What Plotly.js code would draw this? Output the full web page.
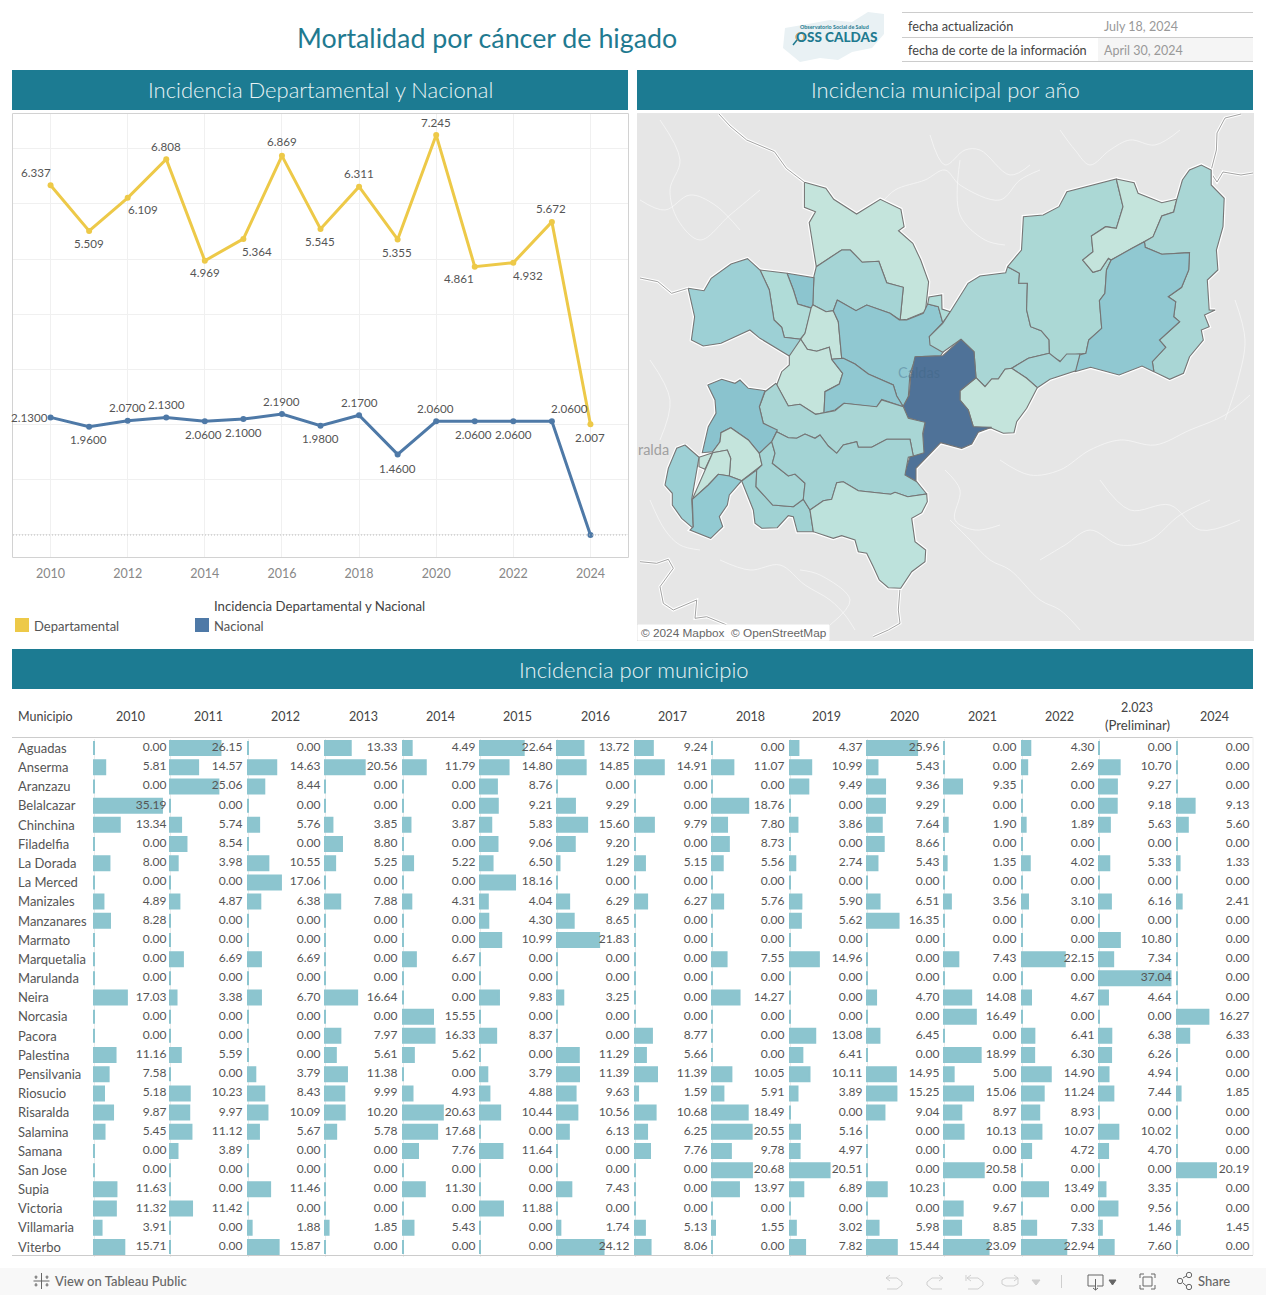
<!DOCTYPE html>
<html>
<head>
<meta charset="utf-8">
<script src="https://cdn.plot.ly/plotly-3.0.1.min.js"></script>
<style>html,body{margin:0;padding:0;background:#fff;overflow:hidden}#c{width:1266px;height:1295px}</style>
</head>
<body>
<div id="c"></div>
<script>
const lineYears=[2010,2011,2012,2013,2014,2015,2016,2017,2018,2019,2020,2021,2022,2023,2024];
const departamental=[6.337,5.509,6.109,6.808,4.969,5.364,6.869,5.545,6.311,5.355,7.245,4.861,4.932,5.672,2.007];
const nacional=[2.13,1.96,2.07,2.13,2.06,2.10,2.19,1.98,2.17,1.46,2.06,2.06,2.06,2.06,0];
const depOffX=[-15,0,15,0,0,14,0,-1,0,-1,0,-16,15,-1,0];
const depOffY=[-13,13,12,-13,12,13,-14,13,-13,13,-13,12,13,-13,13];
const nacOffX=[-21,-1,0,0,-1,0,0,0,0,0,-1,-1,0,18];
const nacOffY=[0,13,-13,-13,13,13,-13,13,-13,14,-13,13,13,-13];

const columnHeaders=['2010','2011','2012','2013','2014','2015','2016','2017','2018','2019','2020','2021','2022','2.023<br>(Preliminar)','2024'];
const municipios=['Aguadas','Anserma','Aranzazu','Belalcazar','Chinchina','Filadelfia','La Dorada','La Merced','Manizales','Manzanares','Marmato','Marquetalia','Marulanda','Neira','Norcasia','Pacora','Palestina','Pensilvania','Riosucio','Risaralda','Salamina','Samana','San Jose','Supia','Victoria','Villamaria','Viterbo'];
const y2010=[0,5.81,0,35.19,13.34,0,8.00,0,4.89,8.28,0,0,0,17.03,0,0,11.16,7.58,5.18,9.87,5.45,0,0,11.63,11.32,3.91,15.71];
const y2011=[26.15,14.57,25.06,0,5.74,8.54,3.98,0,4.87,0,0,6.69,0,3.38,0,0,5.59,0,10.23,9.97,11.12,3.89,0,0,11.42,0,0];
const y2012=[0,14.63,8.44,0,5.76,0,10.55,17.06,6.38,0,0,6.69,0,6.70,0,0,0,3.79,8.43,10.09,5.67,0,0,11.46,0,1.88,15.87];
const y2013=[13.33,20.56,0,0,3.85,8.80,5.25,0,7.88,0,0,0,0,16.64,0,7.97,5.61,11.38,9.99,10.20,5.78,0,0,0,0,1.85,0];
const y2014=[4.49,11.79,0,0,3.87,0,5.22,0,4.31,0,0,6.67,0,0,15.55,16.33,5.62,0,4.93,20.63,17.68,7.76,0,11.30,0,5.43,0];
const y2015=[22.64,14.80,8.76,9.21,5.83,9.06,6.50,18.16,4.04,4.30,10.99,0,0,9.83,0,8.37,0,3.79,4.88,10.44,0,11.64,0,0,11.88,0,0];
const y2016=[13.72,14.85,0,9.29,15.60,9.20,1.29,0,6.29,8.65,21.83,0,0,3.25,0,0,11.29,11.39,9.63,10.56,6.13,0,0,7.43,0,1.74,24.12];
const y2017=[9.24,14.91,0,0,9.79,0,5.15,0,6.27,0,0,0,0,0,0,8.77,5.66,11.39,1.59,10.68,6.25,7.76,0,0,0,5.13,8.06];
const y2018=[0,11.07,0,18.76,7.80,8.73,5.56,0,5.76,0,0,7.55,0,14.27,0,0,0,10.05,5.91,18.49,20.55,9.78,20.68,13.97,0,1.55,0];
const y2019=[4.37,10.99,9.49,0,3.86,0,2.74,0,5.90,5.62,0,14.96,0,0,0,13.08,6.41,10.11,3.89,0,5.16,4.97,20.51,6.89,0,3.02,7.82];
const y2020=[25.96,5.43,9.36,9.29,7.64,8.66,5.43,0,6.51,16.35,0,0,0,4.70,0,6.45,0,14.95,15.25,9.04,0,0,0,10.23,0,5.98,15.44];
const y2021=[0,0,9.35,0,1.90,0,1.35,0,3.56,0,0,7.43,0,14.08,16.49,0,18.99,5.00,15.06,8.97,10.13,0,20.58,0,9.67,8.85,23.09];
const y2022=[4.30,2.69,0,0,1.89,0,4.02,0,3.10,0,0,22.15,0,4.67,0,6.41,6.30,14.90,11.24,8.93,10.07,4.72,0,13.49,0,7.33,22.94];
const y2023=[0,10.70,9.27,9.18,5.63,0,5.33,0,6.16,0,10.80,7.34,37.04,4.64,0,6.38,6.26,4.94,7.44,0,10.02,4.70,0,3.35,9.56,1.46,7.60];
const y2024=[0,0,0,9.13,5.60,0,1.33,0,2.41,0,0,0,0,0,16.27,6.33,0,0,1.85,0,0,0,20.19,0,0,1.45,0];
const tableColumns=[y2010,y2011,y2012,y2013,y2014,y2015,y2016,y2017,y2018,y2019,y2020,y2021,y2022,y2023,y2024];

const mapAreas=[
[[804.4,182.3],[804.4,207.3],[815.5,211.7],[809.2,222.7],[816.3,266.7],[841.6,250],[850.3,250],[862.2,262.3],[878.8,261.3],[886.7,282.7],[903.3,287.3],[900.1,320],[907.2,319.3],[925.4,311.7],[928.6,281.7],[920.7,260],[912.8,243.3],[898.5,230.7],[904.1,226.7],[900.9,209.3],[880.3,199.3],[856.6,214],[833.7,199.3],[825.8,188.3]],
[[816.3,266.7],[841.6,250],[850.3,250],[862.2,262.3],[878.8,261.3],[886.7,282.7],[903.3,287.3],[900.1,320],[890,313.3],[866.7,305],[856,310.7],[837.3,300],[833.3,310.7],[826,311.7],[812.7,304.7],[813.9,276.7]],
[[787,273.3],[813.9,277.7],[812.7,308.3],[797.7,304],[793.4,290]],
[[760,270],[787,273.3],[793.4,290],[797.7,304],[811.5,308.3],[805,333.3],[800,339.3],[784.3,337.3],[781.7,327.3],[774,320],[769.3,290]],
[[688.2,288.3],[704,290.7],[711.2,278.3],[731,264],[747.5,258.7],[760,270],[769.3,290],[774,320],[781.7,327.3],[784.3,337.3],[800.7,339.3],[798.3,348.3],[789.3,356],[760,338.3],[749.9,330],[734.9,336.7],[721,343.3],[703.2,346],[691.4,340],[694.6,316.7]],
[[812.7,304.7],[826,311.7],[833.3,310.7],[838.3,321.7],[841.7,358.3],[831.7,359.3],[829.3,347.3],[816.7,351.3],[807.3,349.3],[800.7,339.3],[805,333.3],[811,308.3]],
[[837.3,300],[856,310.7],[866.7,305],[890,313.3],[899.3,320],[906.7,320],[923.3,313.3],[927.7,304],[938.3,306.7],[942.7,322.7],[929.3,336.7],[930.7,345],[943.3,351.7],[940.7,355.7],[916,356.7],[910,373.3],[908.3,396.7],[903.3,406.7],[896.7,396],[893.3,385],[868.3,374],[855,364],[843.3,358.3],[841.7,358.3],[838.3,321.7],[833.3,310.7]],
[[927.7,304],[929,297],[941.7,295],[942,309],[950.3,311.7],[942.7,322.7],[938.3,306.7]],
[[950.3,311.7],[968.1,283.3],[980,276],[1005.7,272.7],[1007.6,266.7],[1019.5,273.3],[1018.7,283.3],[1027.4,283.3],[1026.6,310],[1030.6,326.7],[1041.2,330.7],[1049.1,340],[1049.3,353.3],[1028.3,358.3],[1011.7,368.3],[1005,369.3],[998.3,379],[991.7,379],[985,386.7],[976,377.7],[974,351.7],[961,339.3],[942.7,352.3],[930,345],[929.3,336.7],[942.7,323.3]],
[[1007.6,266.7],[1021.5,250],[1023.4,216.7],[1043.2,215],[1059,206.7],[1066.9,191.7],[1116.3,179],[1123,206.7],[1116.3,228.3],[1105.7,226.7],[1091.4,236],[1093,251.7],[1082.7,260],[1093,272.3],[1100.5,270],[1108.4,258.3],[1111.2,260],[1106.5,270],[1104.9,293.3],[1099.4,300.7],[1101.7,328.3],[1088.7,340],[1085.9,353.3],[1070.9,355],[1061,361.7],[1049.5,355],[1049.1,340],[1041.2,330.7],[1030.6,326.7],[1026.6,310],[1027.4,283.3],[1018.7,283.3],[1019.5,273.3]],
[[1116.3,179],[1134.1,182.7],[1138.1,193.3],[1161.8,202.7],[1176.8,199.3],[1173.7,212],[1161.8,216],[1153.1,236.7],[1132.1,248.3],[1111.2,260],[1108.4,258.3],[1100.5,270],[1093,272.3],[1082.7,260],[1093,251.7],[1091.4,236],[1105.7,226.7],[1116.3,228.3],[1123,206.7]],
[[1176.8,199.3],[1182.4,180],[1189.5,170],[1201.3,165],[1211.2,170],[1211.2,185],[1224.2,198.3],[1223,226.7],[1216.4,250],[1217.9,270],[1207.3,280],[1209.2,310],[1215.2,310],[1204.5,315],[1209.2,326.7],[1201.3,330],[1203.3,340],[1189.5,356.7],[1183.5,373.3],[1169.7,379.3],[1153.9,371.7],[1152.3,361.7],[1165.7,347.3],[1159.4,340],[1179.6,321.7],[1173.7,316.7],[1175.7,301.7],[1168.2,296.7],[1181.6,287.3],[1188.7,270],[1189.5,252.7],[1161.8,254.3],[1145.2,247.3],[1144.4,241.7],[1153.1,236.7],[1161.8,216],[1173.7,212]],
[[1144.4,241.7],[1145.2,247.3],[1161.8,254.3],[1189.5,252.7],[1188.7,270],[1181.6,287.3],[1168.2,296.7],[1175.7,301.7],[1173.7,316.7],[1179.6,321.7],[1159.4,340],[1165.7,347.3],[1152.3,361.7],[1153.9,371.7],[1142,366],[1119.1,375],[1090.6,367.3],[1074.8,371.7],[1079.6,355],[1085.9,353.3],[1088.7,340],[1101.7,328.3],[1099.4,300.7],[1104.9,293.3],[1106.5,270],[1111.2,260],[1132.1,248.3]],
[[1049.3,353.3],[1060,361.7],[1066.7,354],[1080,354],[1075.7,370.7],[1056.7,376.7],[1050,379.3],[1037.3,387.7],[1026.7,378.3],[1011.7,368.3],[1028.3,358.3]],
[[976,377.7],[985,386.7],[991.7,379],[998.3,379],[1005,369.3],[1011.7,368.3],[1026.7,378.3],[1037.3,387.7],[1026.7,408.3],[1016.7,421.7],[1014,432.7],[1003.3,433.3],[991.7,428.3],[973.3,426.7],[968.3,410],[960,400],[960,390.7]],
[[961,339.3],[974,351.7],[976,377.7],[960,390.7],[960,400],[968.3,410],[973.3,426.7],[991.7,427.3],[978.3,432.3],[971.7,444],[961.7,448.3],[940.7,442.7],[916,468.3],[916,481],[904,475],[910,456.7],[923.3,452.7],[922.7,435],[925,423.3],[907.3,417.3],[903.3,406],[909.3,395],[910.7,376.7],[915,356.7],[942.7,355.7]],
[[789.3,356],[800.7,339.3],[807.3,349.3],[816.7,351.3],[829.3,347.3],[831.7,359.3],[842.7,373.3],[839.3,384],[825,391.7],[824,412.7],[815,414.3],[800,404.3],[788.3,406],[776.7,385],[781.7,371.7],[789.3,365]],
[[831.7,359.3],[843.3,358.3],[855,364],[868.3,374],[893.3,385],[896.7,396],[903.3,406.7],[881.7,399.3],[876.7,407.3],[844,403.3],[835,410],[824,412.7],[825,391.7],[839.3,384],[842.7,373.3]],
[[776,383.3],[788.3,406],[800,404.3],[815.7,414.3],[824.3,412.7],[835,410.7],[844,403.3],[876.7,406.7],[881.7,400],[903.3,406.7],[908.3,418.3],[925,422.3],[922.7,433.3],[924,452.7],[913.3,456],[910,439.3],[886.7,439.3],[871.7,447.3],[858.3,447.3],[856.7,441.7],[843.3,445],[836.7,453.3],[828.3,446],[820,435],[815,438.3],[805,434],[796.7,438.3],[788.3,437.7],[776.7,431.7],[763.3,423.3],[759.3,406.7],[765,391.7]],
[[707.7,385],[721.7,379.3],[735,383.3],[740,380],[748.3,388.3],[765,390.7],[759.3,406.7],[763.3,423.3],[777.3,430],[771.7,441.7],[759.3,453.3],[748.3,440],[730.7,427.7],[721,432.7],[720,441.7],[712.7,451.7],[702.3,452.7],[708.3,426.7],[716,413.3],[715,400]],
[[730.7,427.7],[748.3,440],[759.3,453.3],[762,465],[741.7,480.7],[729.3,476],[730.7,458.3],[727.3,450],[712.7,452.7],[712.7,451.7],[720,441.7],[721,432.7]],
[[699,457.3],[712.7,452.7],[705,469.3],[699,466.7]],
[[712.7,452.7],[727.3,450],[730.7,458.3],[729.3,476],[718.3,474.3],[708.3,485],[692.3,499.3],[705,469.3]],
[[685,445],[676.7,448.3],[668.3,468.3],[665,485],[672.3,493.3],[672.3,505],[681.7,518.3],[693.3,528.3],[691.7,499.3],[699,457.3]],
[[692.3,499.3],[708.3,485],[718.3,474.3],[729.3,476],[741.7,480.7],[729.3,495],[727.3,505],[719.3,516.7],[722.7,526.7],[710.7,538.3],[690,530],[693.3,526.7]],
[[741.7,481],[756.7,470],[756,486.7],[772.7,505],[793.3,506.7],[803.3,499.3],[810,510],[813.3,531.7],[797.3,531.7],[793.3,516.7],[788.3,515.7],[777.3,527.7],[761.7,528.3],[755,523.3],[753.3,510]],
[[771.7,441.7],[775,453.3],[772.3,463.3],[788.3,476],[795,474],[805,483.3],[803.3,499.3],[793.3,506.7],[772.7,505],[756,486.7],[756.7,470],[762,465],[759.3,453.3]],
[[771.7,441.7],[776.7,431.7],[788.3,437.7],[796.7,438.3],[805,434],[815,438.3],[820,435],[828.3,446],[836.7,453.3],[843.3,445],[856.7,441.7],[858.3,447.3],[871.7,447.3],[886.7,439.3],[910,439.3],[913.3,456],[908.3,457.3],[905,475],[916.7,481.7],[926.7,494],[907.7,496.7],[895,492.3],[890.7,494.3],[858.3,490.7],[843.3,481.7],[836.7,482.7],[831.7,499.3],[823.3,500.7],[810,510],[803.3,499.3],[805,483.3],[795,474],[788.3,476],[772.3,463.3],[775,453.3]],
[[810,510],[823.3,500.7],[831.7,499.3],[836.7,482.7],[843.3,481.7],[858.3,490.7],[890.7,494.3],[895,492.3],[907.7,496.7],[926.7,494],[927.3,501.7],[921.7,512.7],[911.7,518.3],[915,541.7],[925.7,550],[925,561.7],[911.7,571.7],[900.7,588.3],[888.3,587.7],[879.3,580],[873.3,566.7],[866.7,553.3],[858.3,551.7],[855,540],[841.7,535.7],[833.3,538.3],[813.3,531.7]]
];
const mapFills=['#c4e4dc','#a5d4d5','#8cc5cf','#b0dcd8','#9dd0d5','#c4e4dc','#90c8d1','#b0dcd8','#a9d6d5','#abd8d5','#c4e4dc','#a9d6d5','#90c8d1','#a5d5d6','#c4e4dc','#4f7298','#c4e4dc','#90c8d1','#a9d6d5','#8ac3ce','#c4e4dc','#c4e4dc','#c4e4dc','#9dd0d5','#92cad2','#a0d2d3','#a5d5d5','#a3d3d4','#bde2dc'];
const mapBoundaries=[
[[719,114],[730,126],[746.7,140],[760,146],[774.4,151.7],[786.3,168.3],[804.4,182.3]],
[[1241,114],[1225,118],[1217,133],[1216.4,150],[1211.2,170]],
[[1211,173],[1217,182],[1223,172],[1241,175],[1253,173]],
[[640,278],[657.8,281.7],[671.6,293.3],[688.2,288.3]],
[[640,561.7],[656.7,563.3],[668.3,559.3],[673.3,568.3],[660,586.7],[663.3,603.3],[673.3,610],[696.7,600],[695,618.3],[706.7,616.7],[726.7,625]],
[[900,588.3],[898.3,610],[900,623.3],[888.3,630],[873.3,636.7]]
];
const mapRivers=[
[[880,205],[895,190],[925,180],[945,170],[960,185],[1000,200],[1020,180],[1040,170]],
[[660,120],[680,160],[670,190],[678,220],[700,240],[730,215],[760,190]],
[[930,135],[945,165],[965,150],[980,150],[1010,175],[1030,165]],
[[1060,130],[1075,150],[1090,165],[1110,150],[1130,140],[1155,145],[1180,130]],
[[1000,460],[1030,475],[1060,470],[1090,450],[1120,440],[1155,445],[1190,430],[1225,415],[1250,395]],
[[1040,560],[1065,545],[1090,530],[1120,545],[1150,540],[1180,515],[1210,500]],
[[720,560],[750,570],[780,565],[805,585],[830,600],[845,615],[855,630]],
[[650,360],[670,400],[660,440]],
[[950,520],[970,540],[990,560],[1010,570],[1040,600],[1060,610],[1080,630]],
[[640,200],[665,210],[690,195],[715,205],[740,230]],
[[960,160],[960,215],[985,240],[1005,245]],
[[1235,300],[1245,340],[1238,380],[1225,420]],
[[650,500],[665,530],[680,545],[700,550]],
[[800,570],[820,575],[850,600],[830,625]],
[[945,470],[960,490],[955,520],[975,530],[1000,525]],
[[1100,480],[1130,510],[1170,505],[1200,530],[1240,520]]
];
// table column left edges
const colStarts=[93,169,247,324,402,479,556,634,711,789,866,943,1021,1098,1176];
const headX=[130,208,285,363,440,517,595,672,750,827,904,982,1059,1137,1214];

const W=1266,H=1295;
const fx=x=>x/W, fy=y=>1-y/H;
const TEAL='#1c7b92', BAR='#8cc5cf', FONT='Lato, sans-serif';
const shapes=[],annotations=[];
function rect(x0,y0,x1,y1,fill,line,layer){shapes.push({type:'rect',xref:'paper',yref:'paper',x0:fx(x0),x1:fx(x1),y0:fy(y0),y1:fy(y1),fillcolor:fill||'rgba(0,0,0,0)',line:line?{color:line,width:1}:{width:0},layer:layer||'below'});}
function seg(x0,y0,x1,y1,color,w){shapes.push({type:'line',xref:'paper',yref:'paper',x0:fx(x0),x1:fx(x1),y0:fy(y0),y1:fy(y1),line:{color:color,width:w||1}});}
function poly(pts,color,w,fill){shapes.push({type:'path',xref:'paper',yref:'paper',path:'M'+pts.map(p=>fx(p[0])+' '+fy(p[1])).join(' L')+(fill?' Z':''),line:{color:color,width:w||0},fillcolor:fill||'rgba(0,0,0,0)'});}
function ann(x,y,text,o){o=o||{};const a=o.a||'left';annotations.push({xref:'paper',yref:'paper',x:fx(a==='left'?x-1:x),y:fy(y),text:text,showarrow:false,xanchor:a,yanchor:'middle',align:a==='center'?'center':'left',borderpad:0,font:{family:o.f||FONT,size:o.s||12,color:o.c||'#555',weight:o.w||400}});}

// header
ann(487,38,'Mortalidad por cáncer de higado',{s:26.8,c:'#1f7a90',a:'center'});
poly([[785,28],[808,24],[830,20],[852,22],[868,12],[884,14],[884,34],[872,48],[852,52],[838,60],[820,58],[800,62],[783,48]],'rgba(0,0,0,0)',0,'#e9f1f4');
ann(835,27,'Observatorio Social de Salud',{s:5.4,c:'#1f7a90',a:'center',w:700});
ann(836,37,'OSS CALDAS',{s:13.5,c:'#1f7a90',a:'center',w:900});
shapes.push({type:'circle',xref:'paper',yref:'paper',x0:fx(796),x1:fx(804),y0:fy(41),y1:fy(33),line:{color:'#e0b040',width:1.5}});
seg(797,40,793,45,'#1f7a90',1.5);
seg(902,12.5,1253,12.5,'#cccccc');seg(902,37.5,1253,37.5,'#cccccc');seg(902,61.5,1253,61.5,'#cccccc');
rect(1098,38,1253,61,'#f5f5f5');
ann(908,26,'fecha actualización',{s:12.7,c:'#444'});
ann(908,50,'fecha de corte de la información',{s:12.7,c:'#444'});
ann(1104,26,'July 18, 2024',{s:12.5,c:'#999'});
ann(1104,50,'April 30, 2024',{s:12.5,c:'#999'});
// bands
[[12,70,628,110,'Incidencia Departamental y Nacional',320.5],[637,70,1253,110,'Incidencia municipal por año',945.5],[12,649,1253,689,'Incidencia por municipio',633.5]].forEach(b=>{
  rect(b[0],b[1],b[2],b[3],TEAL);
  ann(b[5],b[1]+20,b[4],{s:22,c:'#e9f3f5',a:'center',w:300});
});
// line chart frame & legend
rect(12.5,113.5,628.5,557.5,null,'#d2d2d2','above');
ann(214,606,'Incidencia Departamental y Nacional',{s:13.2,c:'#444'});
rect(15,618,29,632,'#edc948');ann(34,626,'Departamental',{s:13});
rect(195,618,209,632,'#4e79a7');ann(214,626,'Nacional',{s:13});
// map frame
rect(637,113,1254,641,'#e6e6e6');
// table rules
seg(12,737.5,1253,737.5,'#cccccc');seg(12,1255.5,1253,1255.5,'#cccccc');
seg(1253,737,1253,1255,'#eeeeee');
ann(18,716,'Municipio',{s:12.5,c:'#444'});
columnHeaders.forEach((h,i)=>{
  const parts=h.split('<br>');
  if(parts.length>1){ann(headX[i],707,parts[0],{s:12.5,c:'#444',a:'center'});ann(headX[i],725,parts[1],{s:13.2,c:'#444',a:'center'});}
  else ann(headX[i],716,h,{s:12.5,c:'#444',a:'center'});
});
// footer
rect(0,1268,1266,1295,'#f8f8f8');
ann(55,1281,'View on Tableau Public',{s:13,c:'#666',w:500});
ann(1198,1281,'Share',{s:13,c:'#666',w:500});
const ic='#666',dis='#cfcfcf';
[[41.5,1273,41.5,1289],[33.5,1281,49.5,1281],[36,1275.5,36,1279],[47,1275.5,47,1279],[36,1283,36,1286.5],[47,1283,47,1286.5],[34.5,1277,37.5,1277],[45.5,1277,48.5,1277],[34.5,1285,37.5,1285],[45.5,1285,48.5,1285]].forEach(s=>seg(s[0],s[1],s[2],s[3],ic,1));
poly([[890,1275],[886,1278],[890,1281]],dis,1);poly([[886,1278],[897,1278],[902,1282],[902,1285],[897,1289],[887,1289]],dis,1);
poly([[939,1275],[943,1278],[939,1281]],dis,1);poly([[943,1278],[932,1278],[927,1282],[927,1285],[932,1289],[942,1289]],dis,1);
poly([[971,1275],[967,1278],[971,1281]],dis,1);seg(966,1275,966,1281,dis,1);poly([[967,1278],[978,1278],[983,1282],[983,1285],[978,1289],[968,1289]],dis,1);
poly([[1014,1275],[1018,1278],[1014,1281]],dis,1);poly([[1018,1278],[1006,1278],[1002,1280],[1002,1284],[1006,1286],[1014,1286],[1018,1284],[1018,1278]],dis,1);
poly([[1032,1280],[1040,1280],[1036,1285]],dis,1,dis);
seg(1061.5,1275,1061.5,1288,dis,1);
poly([[1095,1286],[1088,1286],[1088,1275],[1103,1275],[1103,1286],[1097,1286]],ic,1);seg(1095.5,1279,1095.5,1290,ic,1);poly([[1093,1288],[1095.5,1290],[1098,1288]],ic,1);
poly([[1109,1280],[1116,1280],[1112.5,1285]],ic,1,ic);
poly([[1140,1278],[1140,1274],[1144,1274]],ic,1);poly([[1151,1274],[1155,1274],[1155,1278]],ic,1);poly([[1155,1285],[1155,1289],[1151,1289]],ic,1);poly([[1144,1289],[1140,1289],[1140,1285]],ic,1);rect(1143,1277,1152,1286,null,ic,'above');
poly([[1183,1278],[1187,1275.5]],ic,1);poly([[1183,1283],[1187,1286.5]],ic,1);
[[1180,1281],[1189,1275],[1189,1287]].forEach(c=>shapes.push({type:'circle',xref:'paper',yref:'paper',x0:fx(c[0]-2.7),x1:fx(c[0]+2.7),y0:fy(c[1]+2.7),y1:fy(c[1]-2.7),line:{color:ic,width:1}}));

const traces=[];
// line chart
traces.push({type:'scatter',mode:'lines+markers',x:lineYears,y:departamental,line:{color:'#edc948',width:3},marker:{size:6,color:'#edc948'},xaxis:'x',yaxis:'y',hoverinfo:'skip'});
traces.push({type:'scatter',mode:'lines+markers',x:lineYears,y:nacional,line:{color:'#4e79a7',width:3},marker:{size:6,color:'#4e79a7'},xaxis:'x',yaxis:'y',hoverinfo:'skip'});
shapes.push({type:'line',xref:'paper',yref:'y',x0:fx(13),x1:fx(628),y0:0,y1:0,line:{color:'#bbbbbb',width:1,dash:'1px,2px'}});
departamental.forEach((v,i)=>annotations.push({xref:'x',yref:'y',x:lineYears[i],y:v,text:v.toFixed(3),showarrow:false,xshift:depOffX[i],yshift:-depOffY[i],font:{family:FONT,size:11.6,color:'#555'}}));
nacOffX.forEach((dx,i)=>annotations.push({xref:'x',yref:'y',x:lineYears[i],y:nacional[i],text:nacional[i].toFixed(4),showarrow:false,xshift:dx,yshift:-nacOffY[i],font:{family:FONT,size:11.6,color:'#555'}}));
// map
mapRivers.forEach(r=>traces.push({type:'scatter',mode:'lines',x:r.map(p=>p[0]),y:r.map(p=>p[1]),line:{color:'rgba(255,255,255,.5)',width:1,shape:'spline'},xaxis:'x2',yaxis:'y2',hoverinfo:'skip'}));
mapBoundaries.forEach(r=>{
  traces.push({type:'scatter',mode:'lines',x:r.map(p=>p[0]),y:r.map(p=>p[1]),line:{color:'#ffffff',width:3},xaxis:'x2',yaxis:'y2',hoverinfo:'skip'});
  traces.push({type:'scatter',mode:'lines',x:r.map(p=>p[0]),y:r.map(p=>p[1]),line:{color:'#8a8a8a',width:0.8},xaxis:'x2',yaxis:'y2',hoverinfo:'skip'});
});
mapAreas.forEach(a=>traces.push({type:'scatter',mode:'lines',x:a.map(p=>p[0]).concat(a[0][0]),y:a.map(p=>p[1]).concat(a[0][1]),line:{color:'#ffffff',width:3.5},xaxis:'x2',yaxis:'y2',hoverinfo:'skip'}));
mapAreas.forEach((a,i)=>traces.push({type:'scatter',mode:'lines',fill:'toself',fillcolor:mapFills[i],x:a.map(p=>p[0]).concat(a[0][0]),y:a.map(p=>p[1]).concat(a[0][1]),line:{color:'#757575',width:1.1},xaxis:'x2',yaxis:'y2',hoverinfo:'skip'}));
annotations.push({xref:'x2',yref:'y2',x:918.5,y:372,text:'Caldas',showarrow:false,font:{family:FONT,size:14.5,color:'rgba(60,100,130,.4)'}});
annotations.push({xref:'x2',yref:'y2',x:653,y:449,text:'ralda',showarrow:false,font:{family:FONT,size:14.5,color:'#a0a0a0'}});
rect(638,625,829,640,'#ffffff','#ffffff','above');
ann(641,632.5,'© 2024 Mapbox  © OpenStreetMap',{s:11.8,c:'#666',f:'"Liberation Sans", sans-serif'});
// table
traces.push({type:'scatter',mode:'text',x:municipios.map(()=>0),y:municipios,text:municipios,textposition:'middle right',textfont:{family:FONT,size:13,color:'#555'},xaxis:'x3',yaxis:'y19',cliponaxis:false,hoverinfo:'skip'});
const layout={width:W,height:H,margin:{l:0,r:0,t:0,b:0},showlegend:false,paper_bgcolor:'#fff',plot_bgcolor:'rgba(0,0,0,0)',bargap:0.27,hovermode:false,shapes:shapes,annotations:annotations,
 xaxis:{domain:[fx(12),fx(629)],range:[2009,2025],tickvals:[2010,2012,2014,2016,2018,2020,2022,2024],ticks:'outside',ticklen:4,tickcolor:'rgba(0,0,0,0)',gridcolor:'#f0f0f0',zeroline:false,showline:false,tickfont:{family:FONT,size:12.5,color:'#888'},anchor:'y'},
 yaxis:{domain:[fy(558),fy(113)],range:[-0.417,7.645],dtick:1,tick0:0,showticklabels:false,gridcolor:'#f0f0f0',zeroline:false,showline:false,anchor:'x'},
 xaxis2:{domain:[fx(637),fx(1254)],range:[637,1254],visible:false,anchor:'y2'},
 yaxis2:{domain:[fy(641),fy(113)],range:[641,113],visible:false,anchor:'x2'},
 xaxis3:{domain:[fx(18),fx(92)],range:[0,74],visible:false,anchor:'y19'},
 yaxis3:{domain:[fy(1256.5),fy(738.5)],type:'category',categoryorder:'array',categoryarray:municipios,range:[26.5,-0.5],visible:false,anchor:'x4'},
 yaxis19:{domain:[fy(1258),fy(740)],type:'category',categoryorder:'array',categoryarray:municipios,range:[26.5,-0.5],visible:false,anchor:'x3'}
};
const pxPerUnit=1.93,colW=77;
tableColumns.forEach((vals,i)=>{
  const n=i+4,L=colStarts[i];
  layout['xaxis'+n]={domain:[fx(L),fx(L+colW)],range:[-1/pxPerUnit,(colW-1)/pxPerUnit],showgrid:false,showticklabels:false,ticks:'',zeroline:true,zerolinecolor:'#ececec',zerolinewidth:1,anchor:'y3'};
  traces.push({type:'bar',orientation:'h',x:vals,y:municipios,marker:{color:BAR,line:{color:BAR,width:2}},xaxis:'x'+n,yaxis:'y3',hoverinfo:'skip'});
  traces.push({type:'scatter',mode:'text',x:vals.map(()=>72.5/pxPerUnit),y:municipios,text:vals.map(v=>v.toFixed(2)),textposition:'middle left',textfont:{family:FONT,size:12,color:'#555'},xaxis:'x'+n,yaxis:'y3',cliponaxis:false,hoverinfo:'skip'});
});
Plotly.newPlot('c',traces,layout,{staticPlot:true,displayModeBar:false});
</script>
</body>
</html>
